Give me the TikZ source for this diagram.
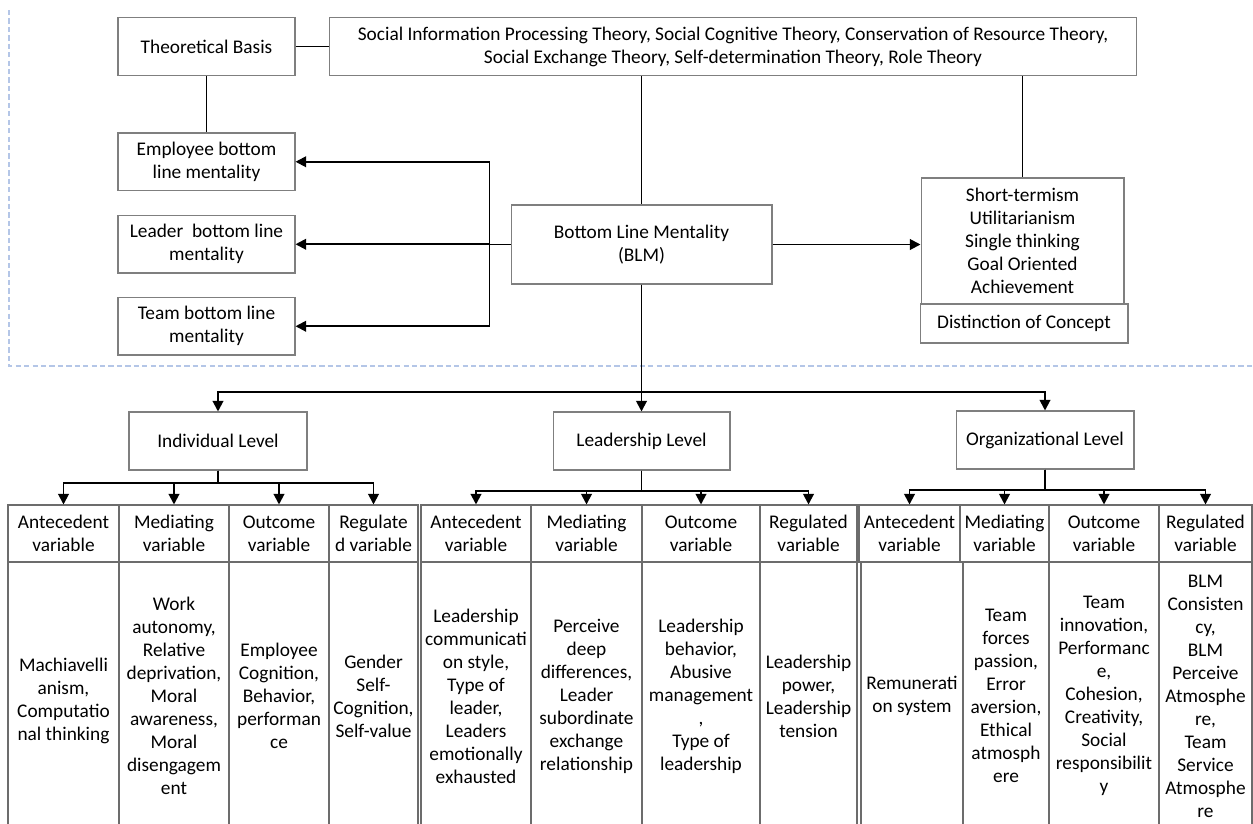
\documentclass[tikz,border=0pt]{standalone}
\usepackage{fontspec}
\setmainfont{Carlito}
\usepackage{tikz}
\usetikzlibrary{arrows.meta, positioning, calc}
\definecolor{dashblue}{HTML}{B4C6E7}
\definecolor{boxgray}{HTML}{7F7F7F}

\begin{document}
\begin{tikzpicture}[x=0.02cm,y=-0.02cm,
  every node/.style={font=\fontsize{11}{13.1}\selectfont, align=center, inner sep=1pt},
  box/.style={draw=boxgray, line width=0.6pt},
  cell/.style={draw=boxgray!85!black, line width=0.6pt},
  conn/.style={line width=1.1pt},
  arr/.style={line width=1.1pt, -{Triangle[length=6pt,width=6pt]}}]
  \useasboundingbox (0,0) rectangle (1253,823);
  \draw[dashblue, line width=1.3pt, dash pattern=on 3pt off 1.8pt] (9,10) -- (9,366) -- (1253,366);

  % upper part
  \node[box, minimum width=3.54cm, minimum height=1.16cm] (tb) at (206.5,46.5) {Theoretical Basis};
  \node[box, minimum width=16.16cm, minimum height=1.16cm] (theo) at (733,46.5) {Social Information Processing Theory, Social Cognitive Theory, Conservation of Resource Theory,\\ Social Exchange Theory, Self-determination Theory, Role Theory};
  \node[box, minimum width=3.54cm, minimum height=1.15cm] (emp) at (206.5,161.75) {Employee bottom\\ line mentality};
  \node[box, minimum width=3.54cm, minimum height=1.15cm] (ldr) at (206.5,244.25) {Leader~~bottom line\\ mentality};
  \node[box, minimum width=3.54cm, minimum height=1.15cm] (team) at (206.5,326.25) {Team bottom line\\ mentality};
  \node[box, minimum width=5.22cm, minimum height=1.58cm] (blm) at (641.5,244.5) {Bottom Line Mentality\\ (BLM)};
  \node[box, minimum width=4.06cm, minimum height=2.52cm] (con) at (1022.5,241) {Short-termism\\ Utilitarianism\\ Single thinking\\ Goal Oriented\\ Achievement};
  \node[box, minimum width=4.16cm, minimum height=0.78cm] (dis) at (1024,323.5) {Distinction of Concept};

  \draw[conn] (tb.east) -- (theo.west);
  \draw[conn] (tb.south) -- (emp.north);
  \draw[conn] (theo.south -| blm.north) -- (blm.north);
  \draw[conn] (theo.south -| con.north) -- (con.north);
  \draw[arr] (blm.east) -- (blm.east -| con.west);
  \draw[arr] (blm.west) -- ++(-21,0) |- (emp.east);
  \draw[arr] (blm.west) -- ++(-21,0) |- (ldr.east);
  \draw[arr] (blm.west) -- ++(-21,0) |- (team.east);

  % levels
  \node[box, minimum width=3.56cm, minimum height=1.16cm] (ind) at (218,441) {Individual Level};
  \node[box, minimum width=3.54cm, minimum height=1.16cm] (lead) at (641.5,441) {Leadership Level};
  \node[box, minimum width=3.56cm, minimum height=1.16cm] (org) at (1045,440) {Organizational Level};
  \draw[arr] (blm.south) -- ++(0,107) -| (ind.north);
  \draw[arr] (blm.south) -- ++(0,107) -| (lead.north);
  \draw[arr] (blm.south) -- ++(0,107) -| (org.north);

  % individual table
  \node[cell, minimum width=2.22cm, minimum height=1.14cm] (iaH) at (63.5,533.5) {Antecedent\\ variable};
  \node[cell, minimum width=2.2cm, minimum height=1.14cm] (imH) at (174,533.5) {Mediating\\ variable};
  \node[cell, minimum width=2.0cm, minimum height=1.14cm] (ioH) at (279,533.5) {Outcome\\ variable};
  \node[cell, minimum width=1.78cm, minimum height=1.14cm] (irH) at (373.5,533.5) {Regulate\\ d variable};
  \node[cell, minimum width=2.22cm, minimum height=5.36cm] (iaB) at (63.5,696) {\\ Machiavelli\\ anism,\\ Computatio\\ nal thinking};
  \node[cell, minimum width=2.2cm, minimum height=5.36cm] (imB) at (174,696) {Work\\ autonomy,\\ Relative\\ deprivation,\\ Moral\\ awareness,\\ Moral\\ disengagem\\ ent};
  \node[cell, minimum width=2.0cm, minimum height=5.36cm] (ioB) at (279,696) {Employee\\ Cognition,\\ Behavior,\\ performan\\ ce};
  \node[cell, minimum width=1.78cm, minimum height=5.36cm] (irB) at (373.5,696) {Gender\\ Self-\\ Cognition,\\ Self-value};
  \draw[arr] (ind.south) -- ++(0,12) -| (iaH.north);
  \draw[arr] (ind.south) -- ++(0,12) -| (imH.north);
  \draw[arr] (ind.south) -- ++(0,12) -| (ioH.north);
  \draw[arr] (ind.south) -- ++(0,12) -| (irH.north);

  % leadership table
  \node[cell, minimum width=2.2cm, minimum height=1.14cm] (laH) at (476,533.5) {Antecedent\\ variable};
  \node[cell, minimum width=2.22cm, minimum height=1.14cm] (lmH) at (586.5,533.5) {Mediating\\ variable};
  \node[cell, minimum width=2.36cm, minimum height=1.14cm] (loH) at (701,533.5) {Outcome\\ variable};
  \node[cell, minimum width=1.94cm, minimum height=1.14cm] (lrH) at (808.5,533.5) {Regulated\\ variable};
  \node[cell, minimum width=2.2cm, minimum height=5.36cm] (laB) at (476,696) {Leadership\\ communicati\\ on style,\\ Type of\\ leader,\\ Leaders\\ emotionally\\ exhausted};
  \node[cell, minimum width=2.22cm, minimum height=5.36cm] (lmB) at (586.5,696) {Perceive\\ deep\\ differences,\\ Leader\\ subordinate\\ exchange\\ relationship};
  \node[cell, minimum width=2.36cm, minimum height=5.36cm] (loB) at (701,696) {Leadership\\ behavior,\\ Abusive\\ management\\ ,\\ Type of\\ leadership};
  \node[cell, minimum width=1.94cm, minimum height=5.36cm] (lrB) at (808.5,696) {Leadership\\ power,\\ Leadership\\ tension};
  \draw[arr] (lead.south) -- ++(0,20) -| (laH.north);
  \draw[arr] (lead.south) -- ++(0,20) -| (lmH.north);
  \draw[arr] (lead.south) -- ++(0,20) -| (loH.north);
  \draw[arr] (lead.south) -- ++(0,20) -| (lrH.north);

  % organizational table
  \node[cell, minimum width=2.02cm, minimum height=1.14cm] (oaH) at (909.5,533.5) {Antecedent\\ variable};
  \node[cell, minimum width=1.78cm, minimum height=1.14cm] (omH) at (1004.5,533.5) {Mediating\\ variable};
  \node[cell, minimum width=2.2cm, minimum height=1.14cm] (ooH) at (1104,533.5) {Outcome\\ variable};
  \node[cell, minimum width=1.86cm, minimum height=1.14cm] (orH) at (1205.5,533.5) {Regulated\\ variable};
  \node[cell, minimum width=2.04cm, minimum height=5.36cm] (oaB) at (912,696) {Remunerati\\ on system};
  \node[cell, minimum width=1.72cm, minimum height=5.36cm] (omB) at (1006,696) {Team\\ forces\\ passion,\\ Error\\ aversion,\\ Ethical\\ atmosph\\ ere};
  \node[cell, minimum width=2.2cm, minimum height=5.36cm] (ooB) at (1104,696) {Team\\ innovation,\\ Performanc\\ e,\\ Cohesion,\\ Creativity,\\ Social\\ responsibilit\\ y};
  \node[cell, minimum width=1.86cm, minimum height=5.36cm] (orB) at (1205.5,696) {BLM\\ Consisten\\ cy,\\ BLM\\ Perceive\\ Atmosphe\\ re,\\ Team\\ Service\\ Atmosphe\\ re};
  \draw[arr] (org.south) -- ++(0,20) -| (oaH.north);
  \draw[arr] (org.south) -- ++(0,20) -| (omH.north);
  \draw[arr] (org.south) -- ++(0,20) -| (ooH.north);
  \draw[arr] (org.south) -- ++(0,20) -| (orH.north);
\end{tikzpicture}
\end{document}
